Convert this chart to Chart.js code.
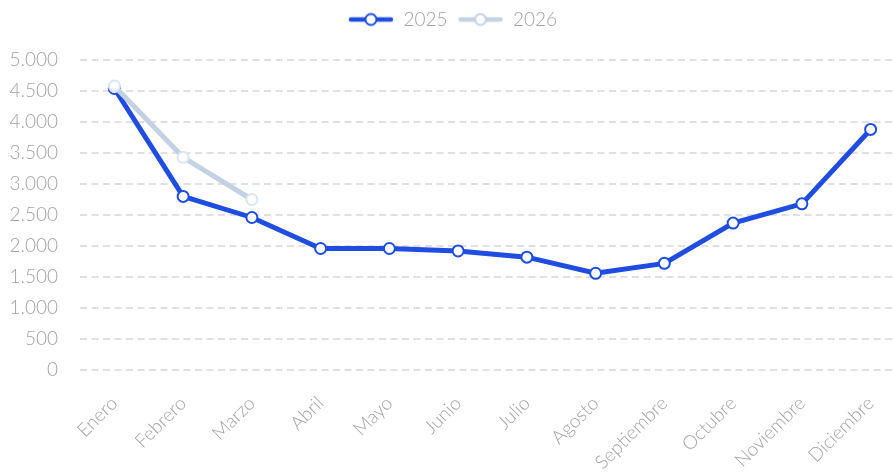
<!DOCTYPE html>
<html lang="es">
<head>
  <meta charset="UTF-8" />
  <title>Ventas mensuales 2025 / 2026</title>
  <script src="https://cdn.jsdelivr.net/npm/chart.js"></script>
  <style>
    html, body {
      margin: 0;
      padding: 0;
      background: #fff;
      overflow: hidden;
    }
    .chart-box {
      position: relative;
      width: 930px;
      height: 472px;
    }
  </style>
</head>
<body>

  <div class="chart-box">
    <canvas id="chart"></canvas>
  </div>

  <script>
    const months = [
      "Enero", "Febrero", "Marzo", "Abril", "Mayo", "Junio",
      "Julio", "Agosto", "Septiembre", "Octubre", "Noviembre", "Diciembre"
    ];

    const values2025 = [4540, 2800, 2460, 1960, 1960, 1920, 1820, 1560, 1720, 2370, 2680, 3880];
    const values2026 = [4580, 3430, 2750];

    const yTicks = [0, 500, 1000, 1500, 2000, 2500, 3000, 3500, 4000, 4500, 5000];

    const blue = '#1f4de0';
    const grey = '#c3d1e2';
    const textColor = '#a3a3a3';
    const fontFamily = "'Lato', 'Roboto', sans-serif";

    // legend icon: thick line with an open circle in the middle
    function legendIcon(color) {
      const c = document.createElement('canvas');
      c.width = 46;
      c.height = 16;
      const ctx = c.getContext('2d');
      ctx.strokeStyle = color;
      ctx.lineWidth = 4.5;
      ctx.lineCap = 'round';
      ctx.beginPath();
      ctx.moveTo(3, 8);
      ctx.lineTo(43, 8);
      ctx.stroke();
      ctx.beginPath();
      ctx.arc(23, 8, 5.5, 0, Math.PI * 2);
      ctx.fillStyle = '#fff';
      ctx.fill();
      ctx.lineWidth = 2;
      ctx.stroke();
      return c;
    }
    const icons = [legendIcon(blue), legendIcon(grey)];

    const legendHeight = {
      id: 'legendHeight',
      afterInit(chart) {
        const legend = chart.legend;
        const fit = legend.fit;
        legend.fit = function () {
          fit.call(this);
          this.height = 60;
        };
      }
    };

    new Chart(document.getElementById('chart'), {
      type: 'line',
      data: {
        labels: months,
        datasets: [
          {
            label: '2025',
            data: values2025,
            borderColor: blue,
            backgroundColor: '#fff',
            borderWidth: 5,
            pointRadius: 5.5,
            pointBorderWidth: 2,
            pointBackgroundColor: '#fff',
            pointBorderColor: blue,
            order: 1
          },
          {
            label: '2026',
            data: values2026,
            borderColor: grey,
            backgroundColor: '#fff',
            borderWidth: 5,
            pointRadius: 5.5,
            pointBorderWidth: 2,
            pointBackgroundColor: '#fff',
            pointBorderColor: '#dde6f0',
            order: 0
          }
        ]
      },
      options: {
        responsive: true,
        maintainAspectRatio: false,
        animation: false,
        layout: { padding: { left: 0, right: 25, top: 0, bottom: 0 } },
        plugins: {
          legend: {
            position: 'top',
            labels: {
              usePointStyle: true,
              pointStyleWidth: 46,
              padding: 10,
              color: textColor,
              font: { family: fontFamily, size: 19, weight: 300 },
              sort: (a, b) => a.datasetIndex - b.datasetIndex,
              generateLabels: chart => chart.data.datasets.map((ds, i) => ({
                text: ds.label,
                pointStyle: icons[i],
                fontColor: textColor,
                datasetIndex: i,
                hidden: false,
                lineWidth: 0
              }))
            }
          },
          tooltip: { enabled: false }
        },
        scales: {
          x: {
            offset: true,
            grid: { display: false, drawTicks: false },
            border: { display: false },
            ticks: {
              color: textColor,
              font: { family: fontFamily, size: 19, weight: 300 },
              minRotation: 45,
              maxRotation: 45,
              padding: 22,
              autoSkip: false
            },
            afterFit: scale => { scale.height = 102; }
          },
          y: {
            min: 0,
            max: 5000,
            afterBuildTicks: scale => { scale.ticks = yTicks.map(v => ({ value: v })); },
            grid: {
              color: '#e0e0e0',
              lineWidth: 2,
              drawTicks: false
            },
            border: { display: false, dash: [7, 4.5] },
            ticks: {
              color: textColor,
              font: { family: fontFamily, size: 19, weight: 300 },
              padding: 22,
              callback: v => v.toLocaleString('de-DE')
            },
            afterFit: scale => { scale.width = 80; }
          }
        }
      },
      plugins: [legendHeight]
    });
  </script>

</body>
</html>
